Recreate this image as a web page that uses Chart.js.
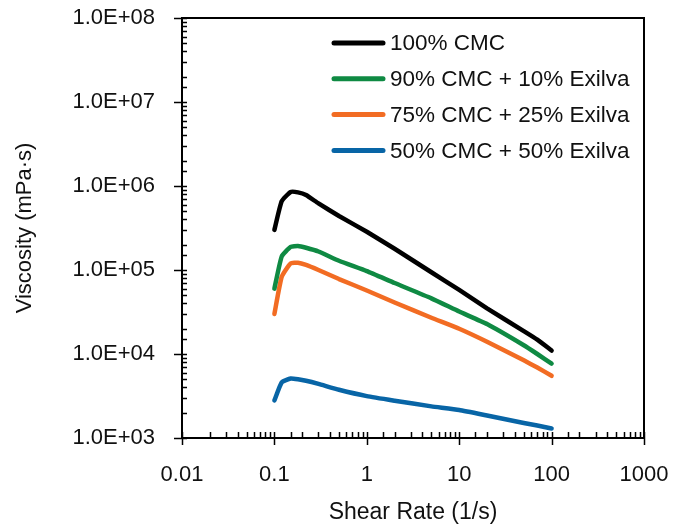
<!DOCTYPE html>
<html>
<head>
<meta charset="utf-8">
<script src="https://cdn.jsdelivr.net/npm/chart.js@4.4.1/dist/chart.umd.min.js"></script>
<style>
    html, body { margin: 0; padding: 0; background: #fff; }
    #wrap { width: 678px; height: 528px; }
</style>
</head>
<body>
<div id="wrap"><canvas id="viscChart" width="678" height="528"></canvas></div>
<script>
// --- data ---
const shearRate = [0.1, 0.12, 0.15, 0.18, 0.22, 0.3, 0.5, 1, 2, 5, 10, 20, 50, 70, 100];
const cmc100 = [3.0e5, 6.6e5, 8.5e5, 8.4e5, 7.8e5, 6.2e5, 4.4e5, 2.85e5, 1.79e5, 9.4e4, 5.8e4, 3.5e4, 1.87e4, 1.48e4, 1.1e4];
const cmc90 = [6.0e4, 1.45e5, 1.88e5, 1.93e5, 1.84e5, 1.66e5, 1.29e5, 9.7e4, 7.0e4, 4.6e4, 3.2e4, 2.27e4, 1.27e4, 1.0e4, 7.7e3];
const cmc75 = [3.0e4, 8.3e4, 1.2e5, 1.22e5, 1.15e5, 1.0e5, 7.8e4, 5.7e4, 4.1e4, 2.7e4, 2.0e4, 1.4e4, 8.4e3, 6.9e3, 5.5e3];
const cmc50 = [2.8e3, 4.6e3, 5.1e3, 5.0e3, 4.8e3, 4.4e3, 3.75e3, 3.15e3, 2.78e3, 2.38e3, 2.15e3, 1.85e3, 1.51e3, 1.41e3, 1.3e3];

const seriesLabels = ['100% CMC', '90% CMC + 10% Exilva', '75% CMC + 25% Exilva', '50% CMC + 50% Exilva'];
const seriesColors = ['#000000', '#0F8A43', '#F26C23', '#0865A6'];

const xTickLabels = ['0.01', '0.1', '1', '10', '100', '1000'];
const yTickLabels = ['1.0E+03', '1.0E+04', '1.0E+05', '1.0E+06', '1.0E+07', '1.0E+08'];

const FONT = '"Liberation Sans", Arial, sans-serif';
const TEXT = '#111111';

function isDecade(v) {
    const l = Math.log10(v);
    return Math.abs(l - Math.round(l)) < 1e-6;
}

// axis box, tick marks and the in-plot legend
const frameAndTicks = {
    id: 'frameAndTicks',
    afterDraw(chart) {
        const { ctx, chartArea: a, scales } = chart;
        ctx.save();
        ctx.strokeStyle = '#000';
        ctx.lineWidth = 2;
        ctx.strokeRect(a.left, a.top, a.right - a.left, a.bottom - a.top);

        ctx.lineWidth = 1.5;
        ctx.beginPath();
        scales.x.ticks.forEach(t => {
            const px = Math.round(scales.x.getPixelForValue(t.value)) + 0.5;
            if (isDecade(t.value)) {
                ctx.moveTo(px, a.bottom - 6); ctx.lineTo(px, a.bottom + 7);
            } else {
                ctx.moveTo(px, a.bottom - 6); ctx.lineTo(px, a.bottom);
            }
        });
        scales.y.ticks.forEach(t => {
            const py = Math.round(scales.y.getPixelForValue(t.value)) + 0.5;
            if (isDecade(t.value)) {
                ctx.moveTo(a.left - 8, py); ctx.lineTo(a.left + 5, py);
            } else {
                ctx.moveTo(a.left, py); ctx.lineTo(a.left + 5, py);
            }
        });
        ctx.stroke();

        // legend
        ctx.font = '22.5px ' + FONT;
        ctx.textBaseline = 'middle';
        ctx.fillStyle = TEXT;
        ctx.lineCap = 'round';
        ctx.lineWidth = 5;
        chart.data.datasets.forEach((ds, i) => {
            const y = 43 + i * 35.8;
            ctx.strokeStyle = ds.borderColor;
            ctx.beginPath();
            ctx.moveTo(334, y); ctx.lineTo(383, y);
            ctx.stroke();
            ctx.fillText(ds.label, 390, y + 1);
        });
        ctx.restore();
    }
};

const datasets = [cmc100, cmc90, cmc75, cmc50].map((vals, i) => ({
    label: seriesLabels[i],
    data: shearRate.map((x, j) => ({ x: x, y: vals[j] })),
    borderColor: seriesColors[i],
    backgroundColor: seriesColors[i],
    borderWidth: 4.5,
    borderCapStyle: 'round',
    borderJoinStyle: 'round',
    pointRadius: 0,
    tension: 0.15,
    fill: false
}));

new Chart(document.getElementById('viscChart'), {
    type: 'line',
    data: { datasets: datasets },
    options: {
        responsive: false,
        animation: false,
        layout: { padding: { top: 18, right: 34, left: 0, bottom: 0 } },
        plugins: {
            legend: { display: false },
            tooltip: { enabled: false }
        },
        scales: {
            x: {
                type: 'logarithmic',
                min: 0.01,
                max: 1000,
                afterFit: s => { s.height = 90; s.paddingLeft = 0; s.paddingRight = 0; },
                grid: { display: false, drawTicks: false },
                border: { display: false },
                ticks: {
                    autoSkip: false,
                    maxRotation: 0,
                    minRotation: 0,
                    padding: 24,
                    color: TEXT,
                    font: { family: FONT, size: 22 },
                    callback: v => isDecade(v) ? xTickLabels[Math.round(Math.log10(v)) + 2] : ''
                },
                title: {
                    display: true,
                    text: 'Shear Rate (1/s)',
                    color: TEXT,
                    font: { family: FONT, size: 23 },
                    padding: { top: 0, bottom: 2 }
                }
            },
            y: {
                type: 'logarithmic',
                min: 1e3,
                max: 1e8,
                afterFit: s => { s.width = 182; s.paddingTop = 0; s.paddingBottom = 0; },
                grid: { display: false, drawTicks: false },
                border: { display: false },
                ticks: {
                    autoSkip: false,
                    padding: 27,
                    color: TEXT,
                    font: { family: FONT, size: 22 },
                    callback: v => isDecade(v) ? yTickLabels[Math.round(Math.log10(v)) - 3] : ''
                },
                title: {
                    display: true,
                    text: 'Viscosity (mPa·s)',
                    color: TEXT,
                    font: { family: FONT, size: 22 },
                    padding: { top: 12, bottom: 0 }
                }
            }
        }
    },
    plugins: [frameAndTicks]
});
</script>
</body>
</html>
